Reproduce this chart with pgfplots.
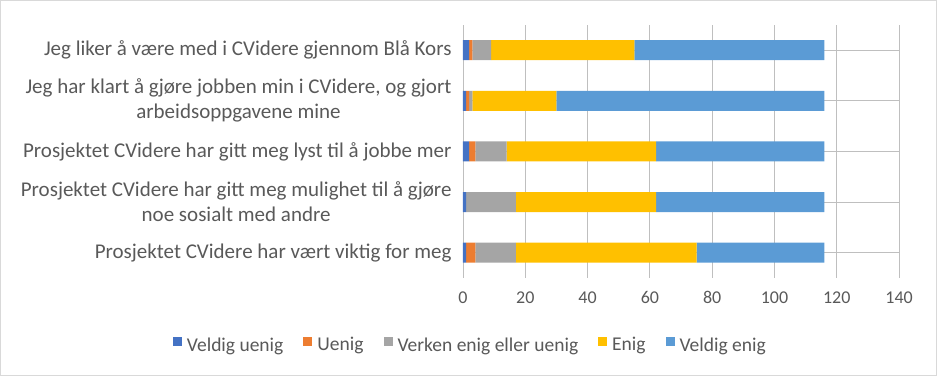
\documentclass[border=0pt]{standalone}
\usepackage{pgfplots}
\pgfplotsset{compat=1.18}
\usepackage{fontspec}
\setmainfont{Carlito}
\definecolor{c1}{HTML}{4472C4}
\definecolor{c2}{HTML}{ED7D31}
\definecolor{c3}{HTML}{A5A5A5}
\definecolor{c4}{HTML}{FFC000}
\definecolor{c5}{HTML}{5B9BD5}
\definecolor{txt}{HTML}{595959}
\definecolor{grid}{HTML}{D9D9D9}
\begin{document}
\begin{tikzpicture}
\begin{axis}[name=a,
  at={(0,0)}, anchor=south west,
  scale only axis, width=436pt, height=253pt,
  xbar stacked, bar width=20pt,
  xmin=0, xmax=140, xtick={0,20,...,140},
  ymin=-0.5, ymax=4.5, ytick={0,1,2,3,4},
  yticklabels={Prosjektet CVidere har vært viktig for meg,
    {Prosjektet CVidere har gitt meg mulighet til å gjøre\\noe sosialt med andre},
    Prosjektet CVidere har gitt meg lyst til å jobbe mer,
    {Jeg har klart å gjøre jobben min i CVidere, og gjort\\arbeidsoppgavene mine},
    Jeg liker å være med i CVidere gjennom Blå Kors},
  yticklabel style={align=center, font=\fontsize{21}{25}\selectfont, text=txt, xshift=-8pt},
  xticklabel style={font=\fontsize{18}{22}\selectfont, text=txt, yshift=-10pt},
  /pgf/number format/assume math mode=true,
  axis line style={draw=none},
  major tick length=0,
  xmajorgrids, grid style={grid, line width=0.8pt},
  legend style={at={(0.017,-0.265)}, anchor=center, legend columns=5, draw=none,
    font=\fontsize{19.5}{23}\selectfont, text=txt,
    /tikz/every even column/.append style={column sep=18pt}},
  legend image code/.code={\fill[#1] (0pt,-1pt) rectangle (9pt,8pt); \path (12pt,0pt);},
]
\addplot[fill=c1, draw=none] coordinates {(1,0) (1,1) (2,2) (1,3) (2,4)};
\addplot[fill=c2, draw=none] coordinates {(3,0) (0,1) (2,2) (1,3) (1,4)};
\addplot[fill=c3, draw=none] coordinates {(13,0) (16,1) (10,2) (1,3) (6,4)};
\addplot[fill=c4, draw=none] coordinates {(58,0) (45,1) (48,2) (27,3) (46,4)};
\addplot[fill=c5, draw=none] coordinates {(41,0) (54,1) (54,2) (86,3) (61,4)};
\legend{Veldig uenig, Uenig, Verken enig eller uenig, Enig, Veldig enig}
\end{axis}
\draw[grid, line width=0.8pt] ([xshift=-462.5pt,yshift=-97.5pt]a.south west) rectangle ([xshift=473.5pt,yshift=277.5pt]a.south west);
\end{tikzpicture}
\end{document}
